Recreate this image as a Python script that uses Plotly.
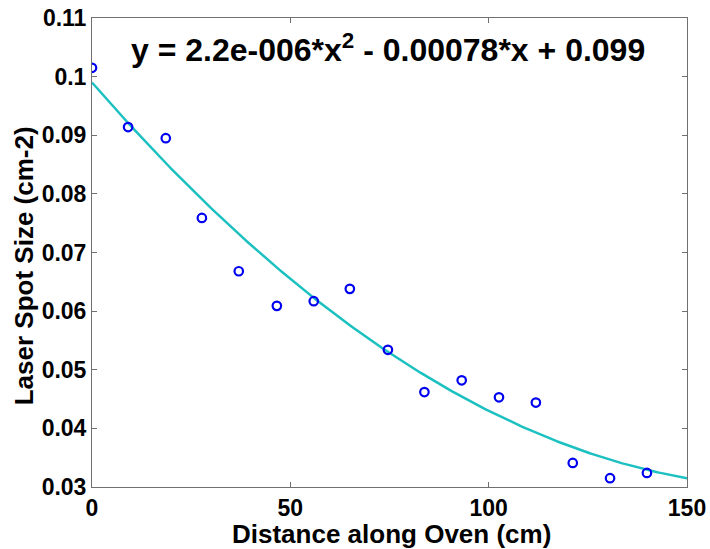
import numpy as np
import plotly.graph_objects as go

# Measured data
distance = [0, 9.1, 18.6, 27.7, 37.0, 46.6, 55.9, 65.0, 74.6, 83.8, 93.2, 102.6, 111.9, 121.2, 130.6, 139.9]
spot_size = [0.1015, 0.0914, 0.0895, 0.0759, 0.0668, 0.0609, 0.0617, 0.0638, 0.0534,
             0.0462, 0.0482, 0.0453, 0.0444, 0.0341, 0.0315, 0.0324]

# Quadratic fit coefficients (as shown in chart)
coef_a, coef_b, coef_c = 2.2e-6, -0.00078, 0.099
fit_x = np.linspace(0, 150, 301)
fit_y = coef_a * fit_x**2 + coef_b * fit_x + coef_c

x_ticks = [0, 50, 100, 150]
y_ticks = [0.03, 0.04, 0.05, 0.06, 0.07, 0.08, 0.09, 0.1, 0.11]
y_ticktext = ["0.03", "0.04", "0.05", "0.06", "0.07", "0.08", "0.09", "0.1", "0.11"]

FONT = "Liberation Sans, Arial, sans-serif"

fig = go.Figure()
fig.add_trace(go.Scatter(
    x=fit_x, y=fit_y, mode="lines",
    line=dict(color="#1CC0C0", width=2.5), showlegend=False, hoverinfo="skip"))
fig.add_trace(go.Scatter(
    x=distance, y=spot_size, mode="markers",
    marker=dict(symbol="circle-open", size=8.5, color="#0000F0", line=dict(width=2.2)),
    showlegend=False))

fig.add_annotation(
    x=0.497, y=0.937, xref="paper", yref="paper",
    text="<b>y = 2.2e-006*x<sup>2</sup> - 0.00078*x + 0.099</b>",
    showarrow=False, font=dict(family=FONT, size=32, color="black"),
    xanchor="center", yanchor="middle")

# axis titles as annotations for precise placement
fig.add_annotation(
    x=-0.114, y=0.471, xref="paper", yref="paper",
    text="<b>Laser Spot Size (cm-2)</b>", textangle=-90,
    showarrow=False, font=dict(family=FONT, size=26, color="black"),
    xanchor="center", yanchor="middle")
fig.add_annotation(
    x=0.503, y=-0.101, xref="paper", yref="paper",
    text="<b>Distance along Oven (cm)</b>",
    showarrow=False, font=dict(family=FONT, size=26, color="black"),
    xanchor="center", yanchor="middle")

axis_common = dict(
    showline=True, linecolor="#707070", linewidth=1, mirror="ticks",
    ticks="inside", ticklen=5, tickcolor="#707070",
    showgrid=False, zeroline=False, automargin=False,
    tickfont=dict(family=FONT, size=23, color="black", weight="bold"),
)

fig.update_layout(
    width=710, height=549,
    margin=dict(l=92, r=23, t=18, b=62),
    paper_bgcolor="white", plot_bgcolor="white",
    xaxis=dict(range=[0, 150], tickvals=x_ticks, **axis_common),
    yaxis=dict(range=[0.03, 0.11], tickvals=y_ticks, ticktext=y_ticktext,
               **axis_common),
)

fig.write_html("out.html")
